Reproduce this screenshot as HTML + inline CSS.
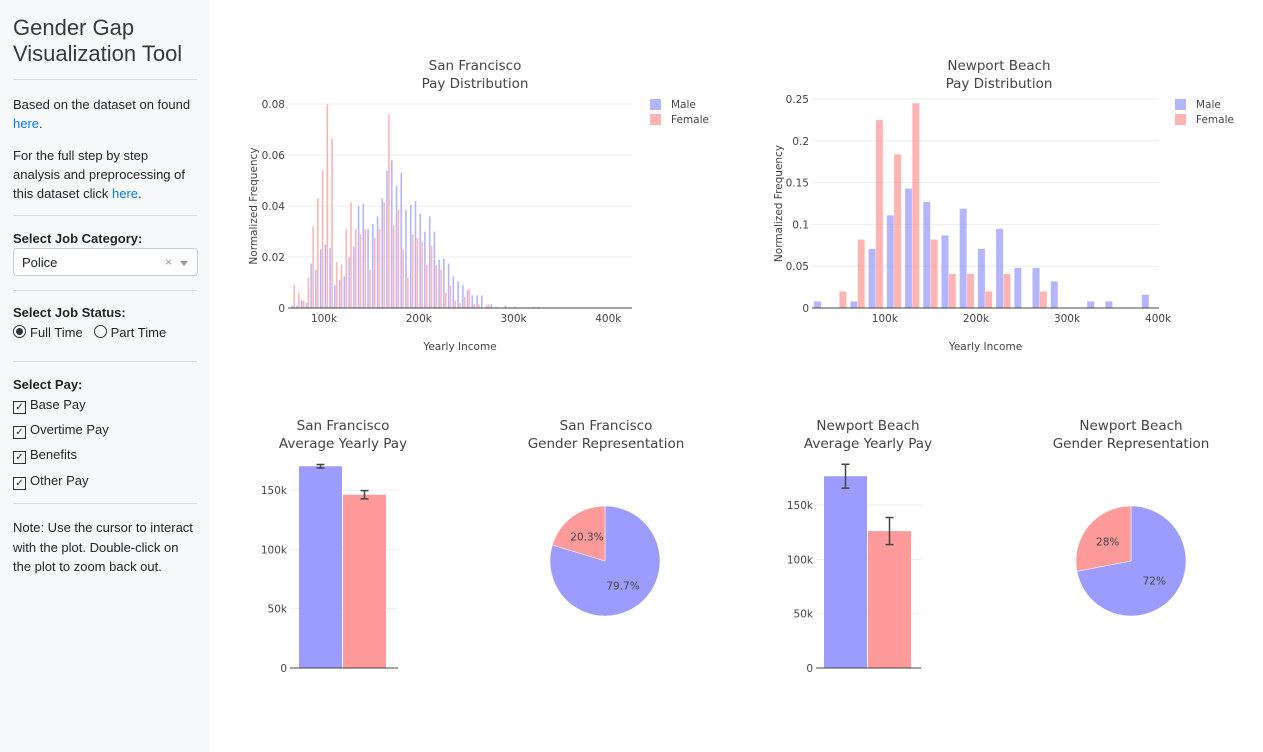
<!DOCTYPE html>
<html><head><meta charset="utf-8">
<style>
body{margin:0;width:1263px;height:752px;overflow:hidden;font-family:"Liberation Sans",sans-serif;background:#fff;position:relative}
#side{position:absolute;left:0;top:0;width:210px;height:752px;background:#f8f9fa;color:#212529;font-size:13px}
#side .in{position:absolute;left:13px;width:184px}
h1{font-weight:normal;font-size:22px;line-height:26px;margin:0;color:#343a40}
hr{position:absolute;left:13px;width:184px;border:0;border-top:1px solid #dcdde0;margin:0}
a{color:#007bff;text-decoration:none}
.lbl{font-weight:bold}
.cb{display:inline-block;width:11px;height:11px;border:1px solid #333;vertical-align:-1px;margin-right:4px;position:relative;font-size:10px;line-height:11px;text-align:center}
.rd{display:inline-block;width:11px;height:11px;border:1px solid #333;border-radius:50%;vertical-align:-1px;margin-right:4px;position:relative}
svg text{font-family:"DejaVu Sans","Liberation Sans",sans-serif}
</style></head><body>
<div id="side">
 <div class="in" style="top:15px"><h1>Gender Gap<br>Visualization Tool</h1></div>
 <hr style="top:79px">
 <div class="in" style="top:95px;line-height:19px">Based on the dataset on found <a href="#">here</a>.</div>
 <div class="in" style="top:146px;line-height:19px">For the full step by step analysis and preprocessing of this dataset click <a href="#">here</a>.</div>
 <hr style="top:215px">
 <div class="in lbl" style="top:231px">Select Job Category:</div>
 <div class="in" style="top:248px;height:28px;border:1px solid #ccc;border-radius:4px;background:#fff;box-sizing:border-box;width:185px">
  <span style="position:absolute;left:8px;top:6px">Police</span>
  <span style="position:absolute;left:151px;top:6px;color:#999;font-size:12px">×</span>
  <span style="position:absolute;left:166px;top:12px;border:4px solid transparent;border-top:5px solid #999"></span>
 </div>
 <hr style="top:290px">
 <div class="in lbl" style="top:305px">Select Job Status:</div>
 <div class="in" style="top:325px"><span class="rd"><span style="position:absolute;left:2px;top:2px;width:7px;height:7px;border-radius:50%;background:#333"></span></span>Full Time &nbsp;&nbsp;<span class="rd"></span>Part Time</div>
 <hr style="top:361px">
 <div class="in lbl" style="top:377px">Select Pay:</div>
 <div class="in" style="top:397px"><span class="cb">✓</span>Base Pay</div>
 <div class="in" style="top:422px"><span class="cb">✓</span>Overtime Pay</div>
 <div class="in" style="top:447px"><span class="cb">✓</span>Benefits</div>
 <div class="in" style="top:473px"><span class="cb">✓</span>Other Pay</div>
 <hr style="top:503px">
 <div class="in" style="top:518px;line-height:19.5px">Note: Use the cursor to interact with the plot. Double-click on the plot to zoom back out.</div>
</div>
<svg id="main" width="1263" height="752" style="position:absolute;left:0;top:0"></svg>
<script>
// SF histogram (bins of 5k, starting 65k)
const sfBinStart=65000, sfBinWidth=5000;
const sfMale=[0.001,0.001,0.003,0.002,0.0175,0.015,0.023,0.025,0.0235,0.009,0.011,0.0125,0.020,0.024,0.040,0.041,0.031,0.033,0.036,0.043,0.054,0.058,0.048,0.053,0.0385,0.0405,0.042,0.037,0.030,0.036,0.030,0.019,0.0195,0.0175,0.0125,0.0105,0.009,0.007,0.005,0.005,0.005,0.001,0.0015,0.0005,0,0.001,0,0.0005,0,0,0,0.0005,0.0005];
const sfFemale=[0.009,0.006,0.003,0.012,0.032,0.043,0.054,0.080,0.0665,0.018,0.017,0.031,0.0415,0.031,0.029,0.031,0.015,0.0275,0.031,0.0415,0.076,0.0325,0.0385,0.023,0.012,0.029,0.0275,0.026,0.017,0.0245,0.017,0.015,0.006,0.009,0.003,0.002,0.0045,0.0075,0.0015,0.0015,0,0.0015,0];
const sfYTicks=[0,0.02,0.04,0.06,0.08];
const sfXTicks=[100000,200000,300000,400000];
// NB histogram (bins of 20k, starting 20k)
const nbBinStart=20000, nbBinWidth=20000;
const nbMale=[0.008,0,0.008,0.071,0.111,0.143,0.127,0.087,0.119,0.071,0.095,0.048,0.048,0.032,0,0.008,0.008,0,0.016];
const nbFemale=[0,0.02,0.082,0.225,0.184,0.245,0.082,0.041,0.041,0.02,0.041,0,0.02,0,0,0,0,0,0];
const nbYTicks=[0,0.05,0.1,0.15,0.2,0.25];
const nbXTicks=[100000,200000,300000,400000];
// Average pay
const sfAvg=[170000,146000], sfErr=[1500,3500];
const nbAvg=[176500,126000], nbErr=[11000,12500];
const sfBarTicks=[0,50000,100000,150000];
const nbBarTicks=[0,50000,100000,150000];
// Representation
const sfShare=[79.7,20.3], nbShare=[72,28];

const svg=document.getElementById('main');const NS='http://www.w3.org/2000/svg';
const MC='rgba(140,140,255,0.65)', FC='rgba(255,140,140,0.65)';
const MS='#9c9cff', FS='#ff9a9a';
const FS_T=10.5;
function mk(t,a,txt){const e=document.createElementNS(NS,t);for(const k in a)e.setAttribute(k,a[k]);if(txt!==undefined)e.textContent=txt;svg.appendChild(e);return e;}
function kfmt(v){return v===0?'0':(v/1000)+'k';}
function title(x,y,l1,l2,name){const t=mk('text',{x:x,y:y,'text-anchor':'middle','font-size':13.5,fill:'#444'});
 
 const a=document.createElementNS(NS,'tspan');a.setAttribute('x',x);a.textContent=l1;t.appendChild(a);
 const b=document.createElementNS(NS,'tspan');b.setAttribute('x',x);b.setAttribute('dy',18);b.textContent=l2;t.appendChild(b);}

function hist(o){
 const X=v=>o.x0+(v-o.d0)/(o.d1-o.d0)*(o.x1-o.x0);
 const Y=v=>o.y0-v/o.ymax*(o.y0-o.y1);
 o.yt.forEach(t=>{const g=mk('line',{x1:o.x0,x2:o.x1,y1:Y(t),y2:Y(t),stroke:'#eee'});
  const l=mk('text',{x:o.x0-3,y:Y(t)+4,'text-anchor':'end','font-size':FS_T,fill:'#444'},String(t));});
 o.xt.forEach(t=>{const l=mk('text',{x:X(t),y:o.y0+14,'text-anchor':'middle','font-size':FS_T,fill:'#444'},kfmt(t));});
 const series=[[o.m,MC,0],[o.f,FC,1]];
 series.forEach(([arr,c,k])=>arr.forEach((v,i)=>{if(!v)return;
  const a=o.bs+i*o.bw;const w=X(a+o.bw)-X(a);const gap=w*0.1;const bw=(w-2*gap)/2;
  const r=mk('rect',{x:X(a)+gap+k*bw,y:Y(v),width:bw,height:Y(0)-Y(v),fill:c,stroke:'rgba(255,255,255,0.6)','stroke-width':0.5});
  }));
 const ax=mk('line',{x1:o.x0,x2:o.x1,y1:o.y0,y2:o.y0,stroke:'#444'});
 const xt=mk('text',{x:(o.x0+o.x1)/2,y:o.y0+42,'text-anchor':'middle','font-size':FS_T,fill:'#444'},'Yearly Income');
 const yc=(o.y0+o.y1)/2;const yt=mk('text',{x:o.ytx,y:yc,'text-anchor':'middle','font-size':FS_T,fill:'#444',transform:`rotate(-90 ${o.ytx} ${yc})`},'Normalized Frequency');
 [['Male',MC,104],['Female',FC,119]].forEach(([n,c,y])=>{const r=mk('rect',{x:o.lx,y:y-5,width:11,height:11,fill:c});
  const t=mk('text',{x:o.lx+21,y:y+4,'font-size':FS_T,fill:'#444'},n);});
}
title(475,70,'San Francisco','Pay Distribution','sf-hist-title');
hist({x0:288,x1:632,d0:62000,d1:425000,y0:308,y1:104,ymax:0.08,yt:sfYTicks,xt:sfXTicks,m:sfMale,f:sfFemale,bs:sfBinStart,bw:sfBinWidth,ytx:257,lx:650});
title(999,70,'Newport Beach','Pay Distribution','nb-hist-title');
hist({x0:812,x1:1159,d0:20000,d1:401000,y0:308,y1:99,ymax:0.25,yt:nbYTicks,xt:nbXTicks,m:nbMale,f:nbFemale,bs:nbBinStart,bw:nbBinWidth,ytx:782,lx:1175});

function bars(o){
 const Y=v=>o.y0-v*o.s;
 o.yt.forEach(t=>{if(t){const g=mk('line',{x1:o.x0,x2:o.x1,y1:Y(t),y2:Y(t),stroke:'#eee'});}
  const l=mk('text',{x:o.x0-3,y:Y(t)+4,'text-anchor':'end','font-size':FS_T,fill:'#444'},kfmt(t));});
 o.v.forEach((v,i)=>{const x=o.bx+i*44;
  const r=mk('rect',{x:x,y:Y(v),width:43,height:Y(0)-Y(v),fill:i?FS:MS});
  const cx=x+21.5,t=Y(v+o.e[i]),b=Y(v-o.e[i]);
  const e=mk('path',{d:`M${cx},${t}V${b}M${cx-4},${t}H${cx+4}M${cx-4},${b}H${cx+4}`,stroke:'#444','stroke-width':1.5,fill:'none'});});
 const ax=mk('line',{x1:o.x0,x2:o.x1,y1:o.y0,y2:o.y0,stroke:'#444'});
}
title(343,430,'San Francisco','Average Yearly Pay','sf-avg-title');
bars({x0:290,x1:398,y0:668,s:178/150000,yt:sfBarTicks,v:sfAvg,e:sfErr,bx:299});
title(868,430,'Newport Beach','Average Yearly Pay','nb-avg-title');
bars({x0:816,x1:921,y0:668,s:163/150000,yt:nbBarTicks,v:nbAvg,e:nbErr,bx:824});

function pie(cx,cy,r,sh,name){
 let a=0;const tot=sh[0]+sh[1];
 sh.forEach((v,i)=>{const a0=a,a1=a+v/tot*2*Math.PI;a=a1;
  const p=t=>[cx+r*Math.sin(t),cy-r*Math.cos(t)];const [x0,y0]=p(a0),[x1,y1]=p(a1);
  const s=mk('path',{d:`M${cx},${cy}L${x0},${y0}A${r},${r} 0 ${a1-a0>Math.PI?1:0} 1 ${x1},${y1}Z`,fill:i?FS:MS,stroke:'#fff','stroke-width':0.5});
  
  const m=(a0+a1)/2;const tx=cx+r*0.55*Math.sin(m),ty=cy-r*0.55*Math.cos(m);
  const t=mk('text',{x:tx,y:ty+4,'text-anchor':'middle','font-size':FS_T,fill:'#444'},v+'%');});
}
title(606,430,'San Francisco','Gender Representation','sf-pie-title');
pie(605,561,55,sfShare,'sf-pie');
title(1131,430,'Newport Beach','Gender Representation','nb-pie-title');
pie(1131,561,55,nbShare,'nb-pie');
</script>
</body></html>
